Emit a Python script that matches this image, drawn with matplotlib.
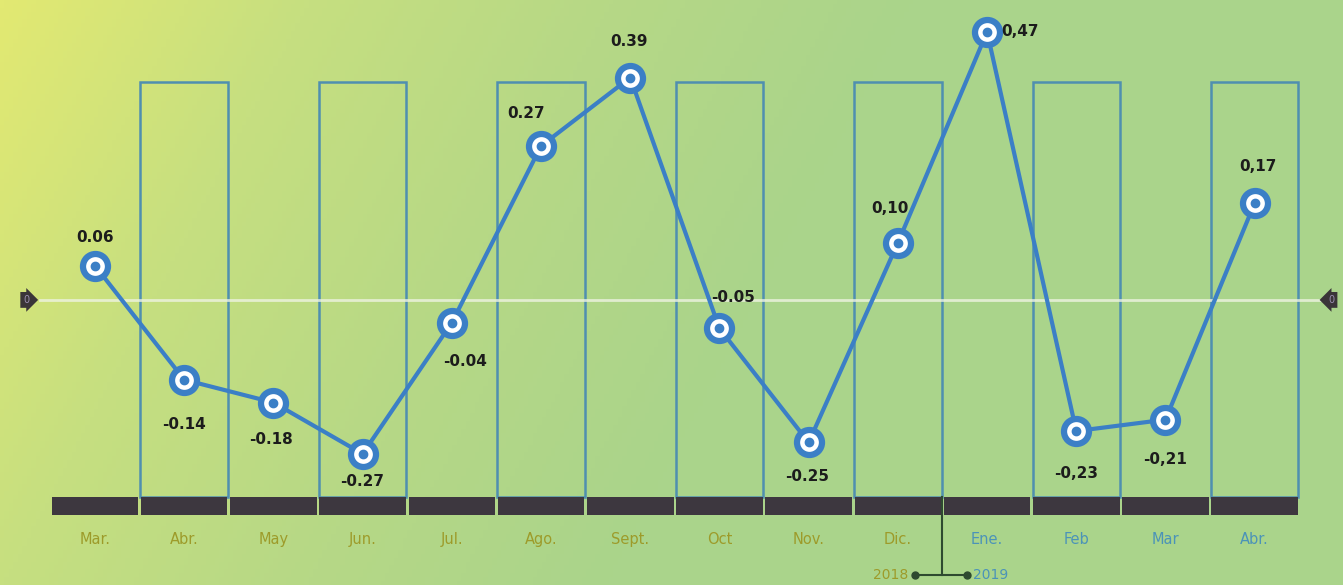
import numpy as np
import matplotlib.pyplot as plt
from matplotlib.colors import LinearSegmentedColormap

months = ['Mar.', 'Abr.', 'May', 'Jun.', 'Jul.', 'Ago.', 'Sept.', 'Oct',
          'Nov.', 'Dic.', 'Ene.', 'Feb', 'Mar', 'Abr.']
values = [0.06, -0.14, -0.18, -0.27, -0.04, 0.27, 0.39, -0.05,
          -0.25, 0.10, 0.47, -0.23, -0.21, 0.17]
value_labels = ['0.06', '-0.14', '-0.18', '-0.27', '-0.04', '0.27', '0.39', '-0.05',
                '-0.25', '0,10', '0,47', '-0,23', '-0,21', '0,17']
years = ['2018', '2019']
n_2018 = 10  # Mar..Dic belong to 2018

# label offsets in pixels (dx, dy)
offsets = [(0, 28), (0, -45), (-2, -37), (0, -28), (13, -39), (-15, 32), (-1, 36),
           (14, 31), (-2, -34), (-8, 34), (33, 0), (0, -42), (0, -40), (3, 36)]

line_blue = '#3b7fc6'
box_blue = '#4f8fb0'
olive = '#9d9b2a'
blue_txt = '#4b93b8'

fig = plt.figure(figsize=(13.43, 5.85), dpi=100)
ax = fig.add_axes([0, 0, 1, 1])
xmin, xmax = -1.065, 13.99
ymin, ymax = -0.5, 0.526
ax.set_xlim(xmin, xmax)
ax.set_ylim(ymin, ymax)
ax.axis('off')

# background gradient (yellow top-left corner to green)
cmap = LinearSegmentedColormap.from_list('bg', ['#e2e972', '#c6df80', '#b6d886', '#aad48b'])
gx, gy = np.meshgrid(np.linspace(0, 1, 300), np.linspace(0, 1, 150))
grad = np.clip(gx * 2.2 + gy * 0.5, 0, 1.5) / 1.5
ax.imshow(grad, cmap=cmap, extent=[xmin, xmax, ymin, ymax], origin='upper',
          aspect='auto', zorder=0)

x = np.arange(len(months))
band_top = -0.346
band_bot = -0.377
col_top = 0.382

# outlined columns for alternating months
for i in x[1::2]:
    ax.bar(i, col_top - band_top, bottom=band_top, width=0.98, facecolor='none',
           edgecolor=box_blue, linewidth=1.8, zorder=1)

# dark band at bottom
ax.bar(x, band_top - band_bot, bottom=band_bot, width=0.97, color='#3d373f', zorder=2)

# zero line
ax.axhline(0, xmin=0.03, xmax=0.985, color='#eef3e2', linewidth=2, alpha=0.8, zorder=1)
ax.text(-0.77, 0, '0', ha='center', va='center', fontsize=7, color='#9a8fb0',
        bbox=dict(boxstyle='rarrow,pad=0.3', fc='#3a3538', ec='none'), zorder=3)
ax.text(13.86, 0, '0', ha='center', va='center', fontsize=7, color='#9a8fb0',
        bbox=dict(boxstyle='larrow,pad=0.3', fc='#3a3538', ec='none'), zorder=3)

# line with ring markers
ax.plot(x, values, color=line_blue, linewidth=3, zorder=4)
ax.plot(x, values, 'o', ms=18, mfc='white', mec=line_blue, mew=4.5, zorder=5)
ax.plot(x, values, 'o', ms=6, color=line_blue, zorder=6)

for xi, v, lab, (dx, dy) in zip(x, values, value_labels, offsets):
    ax.annotate(lab, (xi, v), xytext=(dx, dy), textcoords='offset pixels',
                ha='center', va='center', fontsize=11, fontweight='bold',
                color='#1c1c1c', zorder=7)

# month labels
for i, m in enumerate(months):
    c = olive if i < n_2018 else blue_txt
    ax.text(i, -0.42, m, ha='center', va='center', fontsize=10.5, color=c)

# year divider
xd = n_2018 - 0.5
ax.plot([xd, xd], [band_top, -0.482], color='#2e4a30', linewidth=1.5, zorder=3)
ax.plot([xd - 0.31, xd + 0.27], [-0.482, -0.482], color='#2e4a30', linewidth=1.5,
        marker='o', ms=5, zorder=3)
ax.text(xd - 0.38, -0.482, years[0], ha='right', va='center', fontsize=10,
        color=olive)
ax.text(xd + 0.34, -0.482, years[1], ha='left', va='center', fontsize=10,
        color=blue_txt)

fig.savefig('out.png', dpi=100)
